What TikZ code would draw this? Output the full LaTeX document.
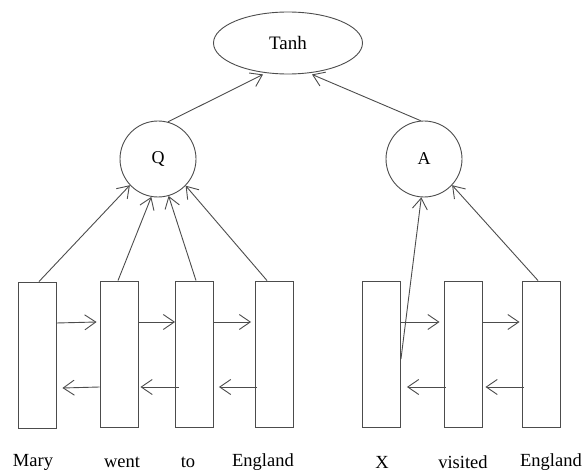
\documentclass[tikz,border=0pt]{standalone}
\usepackage{fontspec}
\setmainfont{Liberation Serif}
\usetikzlibrary{shapes.geometric,arrows.meta}
\begin{document}
\begin{tikzpicture}[x=1pt,y=-1pt,
  ln/.style={draw=black!70,line width=0.9pt},
  arr/.style={ln,-{Straight Barb[length=11pt,width=15pt,line width=0.9pt]}},
  cell/.style={ln,rectangle,minimum width=38pt,minimum height=146pt,inner sep=0pt},
  circ/.style={ln,circle,minimum size=76pt,inner sep=0pt,font=\fontsize{18}{21}\selectfont},
  word/.style={font=\fontsize{18.5}{22}\selectfont,inner sep=0pt}]
\useasboundingbox (0,0) rectangle (584,473);
\node[ln,ellipse,minimum width=149pt,minimum height=62pt,inner sep=0pt,font=\fontsize{19}{22}\selectfont] (T) at (288,43) {Tanh};
\node[circ] (Q) at (158,159) {Q};
\node[circ] (A) at (424,159) {A};
\node[cell] (b1) at (37,355) {};
\node[cell] (b2) at (119,354) {};
\node[cell] (b3) at (194.5,354) {};
\node[cell] (b4) at (274.5,354) {};
\node[cell] (x1) at (381.5,354) {};
\node[cell] (x2) at (463,354) {};
\node[cell] (x3) at (541,354) {};
\node[word] (w1) at (33,462) {Mary};
\node[word] (w2) at (122,462) {went};
\node[word] (w3) at (188,462) {to};
\node[word] (w4) at (263,462) {England};
\node[word] (v1) at (382,462) {X};
\node[word] (v2) at (463,462) {visited};
\node[word] (v3) at (551,462) {England};
% to Tanh
\draw[arr] (Q.75) -- ([xshift=-25pt]T.south);
\draw[arr] (A.95) -- ([xshift=24pt]T.south);
% to Q
\draw[arr] ([xshift=2pt]b1.north) -- (Q.223);
\draw[arr] ([xshift=-1pt]b2.north) -- (Q.260);
\draw[arr] ([xshift=1.5pt]b3.north) -- (Q.286);
\draw[arr] ([xshift=-7.5pt]b4.north) -- (Q.316);
% to A
\draw[arr] ([yshift=-5pt]x1.east) -- (A.266);
\draw[arr] ([xshift=-3pt]x3.north) -- (A.317);
% forward
\draw[arr] ([yshift=32pt]b1.east) -- ([xshift=-3pt,yshift=32pt]b2.west);
\draw[arr] ([yshift=32pt]b2.east) -- ([yshift=32pt]b3.west);
\draw[arr] ([yshift=32pt]b3.east) -- ([xshift=-4pt,yshift=32pt]b4.west);
\draw[arr] ([yshift=32pt]x1.east) -- ([xshift=-4pt,yshift=32pt]x2.west);
\draw[arr] ([yshift=32pt]x2.east) -- ([xshift=-2pt,yshift=32pt]x3.west);
% backward
\draw[arr] ([yshift=-33pt]b2.west) -- ([xshift=6pt,yshift=-33pt]b1.east);
\draw[arr] ([xshift=4pt,yshift=-33pt]b3.west) -- ([xshift=2pt,yshift=-33pt]b2.east);
\draw[arr] ([xshift=2pt,yshift=-33pt]b4.west) -- ([xshift=5pt,yshift=-33pt]b3.east);
\draw[arr] ([xshift=2pt,yshift=-33pt]x2.west) -- ([xshift=6pt,yshift=-33pt]x1.east);
\draw[arr] ([xshift=2pt,yshift=-33pt]x3.west) -- ([xshift=3pt,yshift=-33pt]x2.east);
\end{tikzpicture}
\end{document}
